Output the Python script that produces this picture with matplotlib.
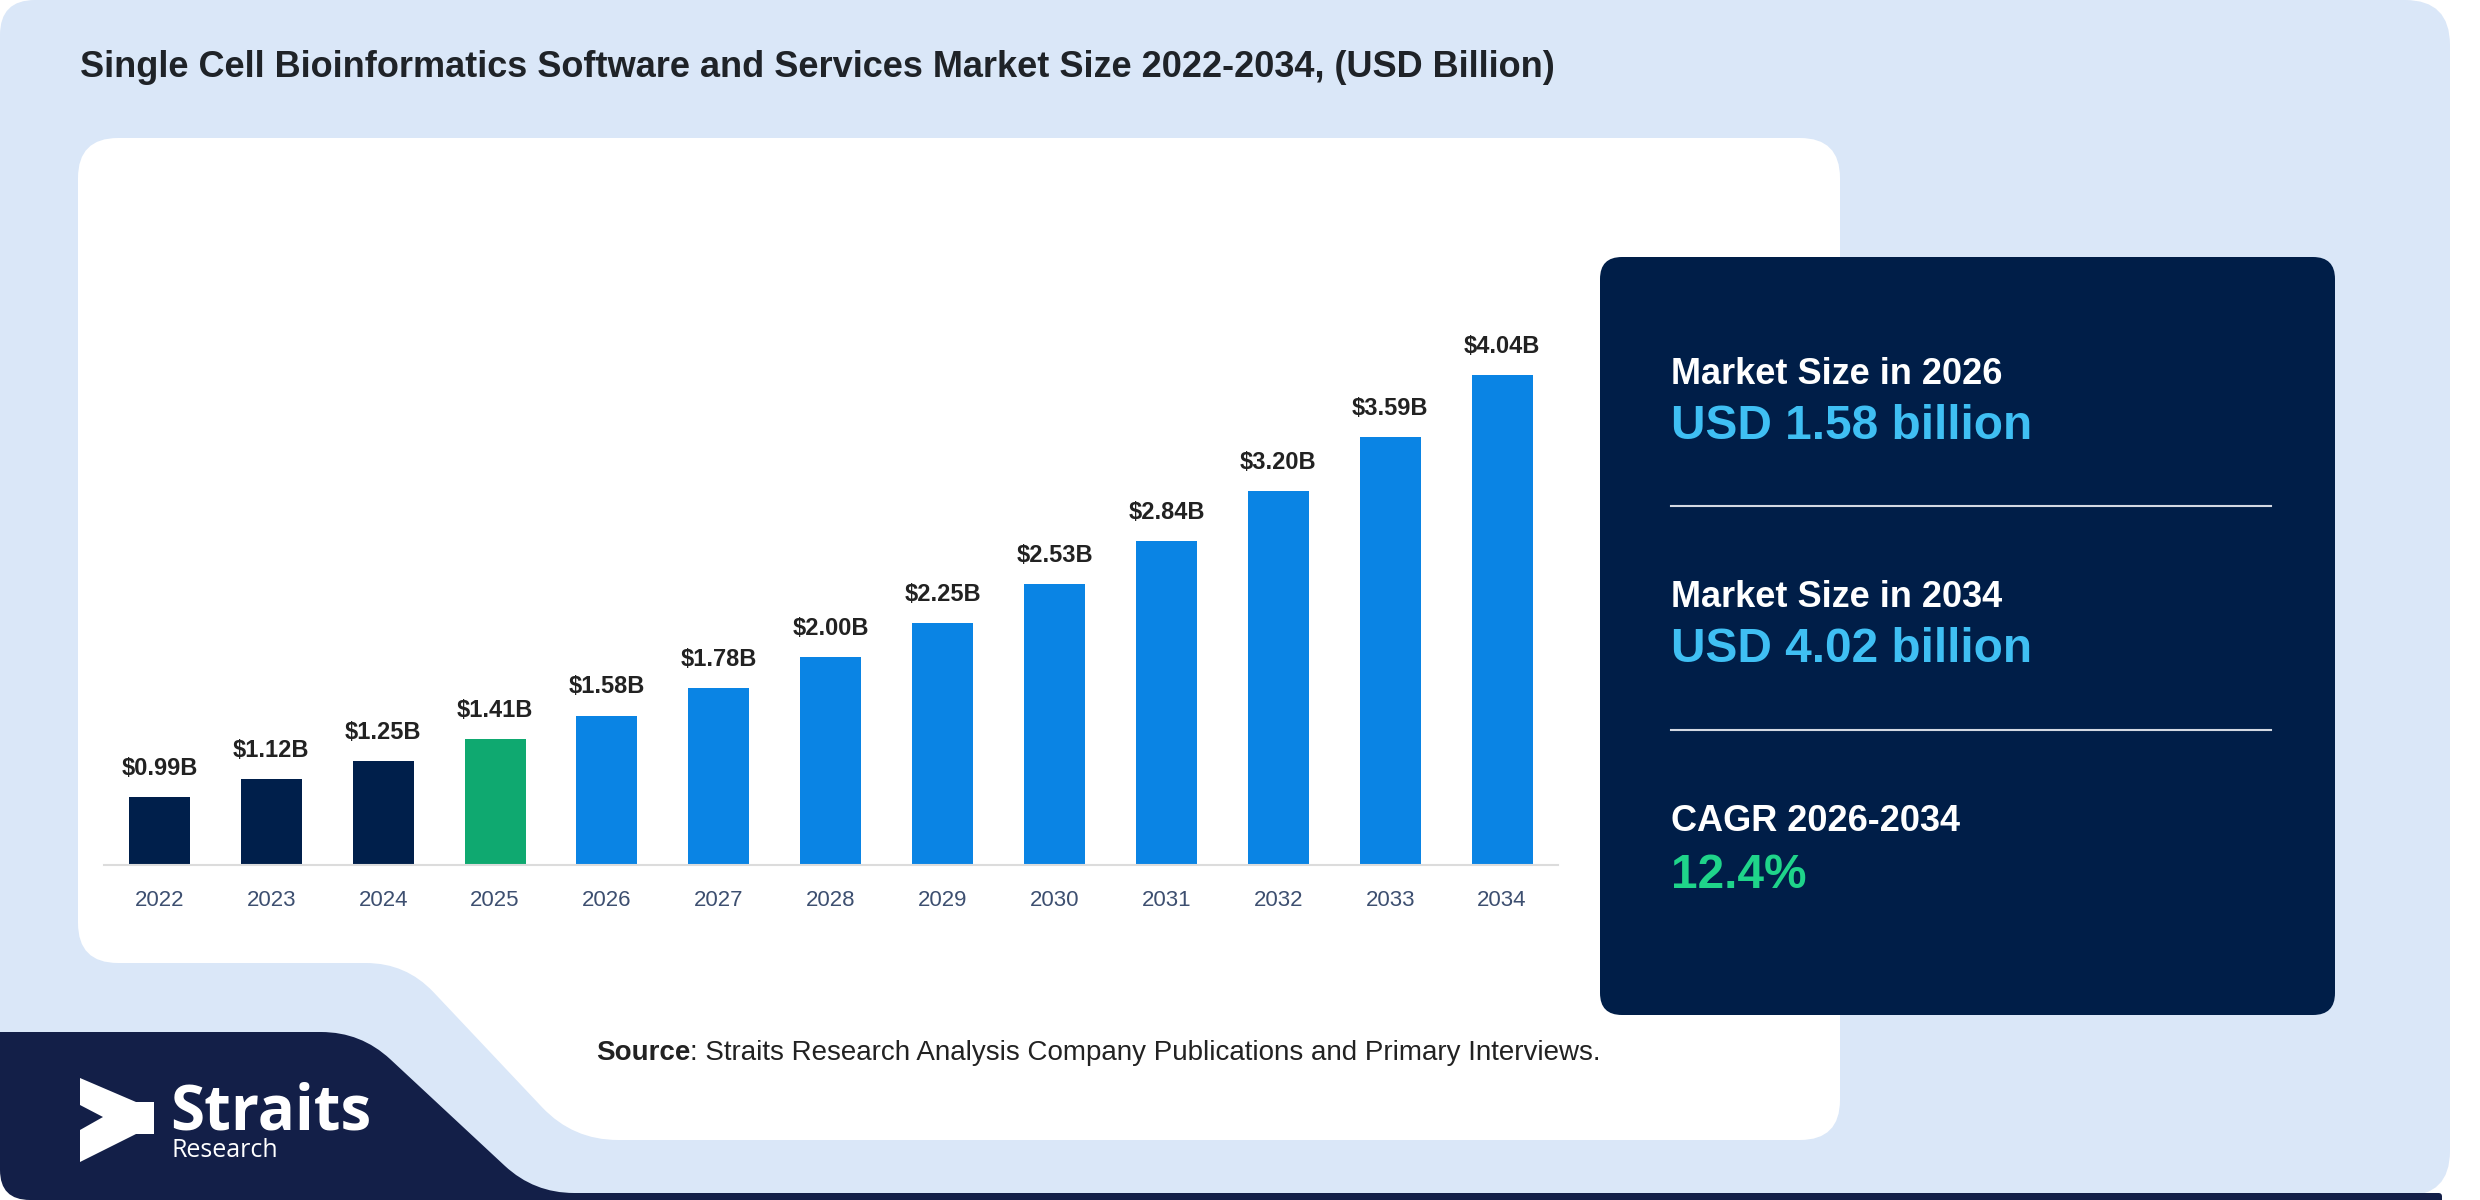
import numpy as np
import matplotlib
matplotlib.use('Agg')
from matplotlib import pyplot as plt
from matplotlib.path import Path
from matplotlib.patches import PathPatch, Polygon

years = [2022, 2023, 2024, 2025, 2026, 2027, 2028, 2029, 2030, 2031, 2032, 2033, 2034]
market_size = [0.99, 1.12, 1.25, 1.41, 1.58, 1.78, 2.00, 2.25, 2.53, 2.84, 3.20, 3.59, 4.04]
base_year = 2025

title = 'Single Cell Bioinformatics Software and Services Market Size 2022-2034, (USD Billion)'
info_heads = ['Market Size in 2026', 'Market Size in 2034', 'CAGR 2026-2034']
info_values = ['USD 1.58 billion', 'USD 4.02 billion', '12.4%']
source_text = ': Straits Research Analysis Company Publications and Primary Interviews.'

NAVY = '#001f4b'
GREEN = '#0fa970'
BLUE = '#0a84e4'
LIGHT = '#dae7f8'
BOX = '#001e48'
LOGO = '#131f48'

plt.rcParams['font.family'] = ['Liberation Sans', 'DejaVu Sans']

W, H = 2480, 1200
fig = plt.figure(figsize=(W / 100, H / 100), dpi=100)
fig.patch.set_facecolor('white')

bg = fig.add_axes([0, 0, 1, 1], zorder=0)
bg.set_xlim(0, W)
bg.set_ylim(H, 0)
bg.axis('off')


def rounded_path(pts, radii):
    verts, codes = [], []
    n = len(pts)
    for i in range(n):
        p0 = np.array(pts[i - 1], float)
        p1 = np.array(pts[i], float)
        p2 = np.array(pts[(i + 1) % n], float)
        d1 = p0 - p1
        d2 = p2 - p1
        l1 = np.hypot(*d1)
        l2 = np.hypot(*d2)
        r = min(radii[i], l1 / 2, l2 / 2)
        a = p1 + d1 / l1 * r
        b = p1 + d2 / l2 * r
        verts.append(a)
        codes.append(Path.MOVETO if i == 0 else Path.LINETO)
        verts += [p1, b]
        codes += [Path.CURVE3, Path.CURVE3]
    verts.append(verts[0])
    codes.append(Path.CLOSEPOLY)
    return Path(verts, codes)


def shape(pts, radii, color, z):
    bg.add_patch(PathPatch(rounded_path(pts, radii), facecolor=color, edgecolor='none', zorder=z))


# light blue card
shape([(0, 0), (2450, 0), (2450, 1196), (0, 1196)], [35, 45, 45, 35], LIGHT, 1)
# white chart panel with cut-out at the lower left
shape([(78, 138), (1840, 138), (1840, 1140), (573, 1140), (406, 963), (78, 963)],
      [40, 40, 40, 45, 40, 40], 'white', 2)
# navy logo band along the bottom
shape([(0, 1032), (361, 1032), (534, 1193), (2442, 1193), (2442, 1200), (0, 1200)],
      [0, 40, 40, 4, 0, 30], LOGO, 3)
# info box
shape([(1600, 257), (2335, 257), (2335, 1015), (1600, 1015)], [22, 22, 22, 22], BOX, 2)

# title
bg.text(80, 77, title, fontsize=26, fontweight='bold', color='#1f2328', va='baseline', zorder=5)

# info box texts
head_y = [384, 607, 831]
val_y = [439, 662, 888]
val_colors = ['#3fbff3', '#3fbff3', '#1fd48a']
for hy, vy, head, val, vc in zip(head_y, val_y, info_heads, info_values, val_colors):
    bg.text(1671, hy, head, fontsize=26, fontweight='bold', color='white', va='baseline', zorder=5)
    bg.text(1671, vy, val, fontsize=34.4, fontweight='bold', color=vc, va='baseline', zorder=5)
for ly in [506, 730]:
    bg.plot([1671, 2271], [ly, ly], color='#d3d8e2', lw=1.5, zorder=5)

# source line
t1 = bg.text(596, 1060, 'Source', fontsize=20, fontweight='bold', color='#222222', va='baseline', zorder=5)
renderer = fig.canvas.get_renderer()
bb = t1.get_window_extent(renderer)
x_end = bg.transData.inverted().transform((bb.x1, bb.y0))[0]
bg.text(x_end, 1060, source_text, fontsize=20, color='#222222', va='baseline', zorder=5)

# logo
arrow = [(80, 1078), (136, 1102), (154, 1102), (154, 1134), (136, 1134), (80, 1162),
         (80, 1130), (103, 1117), (80, 1105)]
bg.add_patch(Polygon(arrow, closed=True, facecolor='white', edgecolor='none', zorder=5))
bg.text(170, 1130, 'Straits', fontsize=44.5, fontweight='bold', family='Open Sans', color='white',
        va='baseline', zorder=5)
bg.text(171, 1157, 'Research', fontsize=18, family='Open Sans', color='white', va='baseline', zorder=5)

# bar chart
ax_left, ax_right, ax_bottom, ax_top = 103.5, 1558, 865, 200
ax = fig.add_axes([ax_left / W, 1 - ax_bottom / H, (ax_right - ax_left) / W, (ax_bottom - ax_top) / H],
                  zorder=3)
ax.patch.set_alpha(0)
x = np.arange(len(years))
colors = [NAVY if y < base_year else (GREEN if y == base_year else BLUE) for y in years]
ax.bar(x, market_size, width=0.545, color=colors, zorder=2)
for xi, v in zip(x, market_size):
    ax.annotate(f'${v:.2f}B', (xi, v), xytext=(0, 16), textcoords='offset points',
                ha='center', va='baseline', fontsize=17, fontweight='bold', color='#222222')
ax.set_xlim(-0.5, len(years) - 0.5)
ax.set_ylim(0.5, 0.5 + (ax_bottom - ax_top) / 138.4)
ax.set_xticks(x)
ax.set_xticklabels([str(y) for y in years], fontsize=16, color='#3d4f70')
ax.tick_params(axis='x', length=0, pad=18)
ax.set_yticks([])
for s in ['top', 'right', 'left']:
    ax.spines[s].set_visible(False)
ax.spines['bottom'].set_color('#dcdcdc')
ax.spines['bottom'].set_linewidth(1.5)

fig.savefig('out.png', dpi=100)
